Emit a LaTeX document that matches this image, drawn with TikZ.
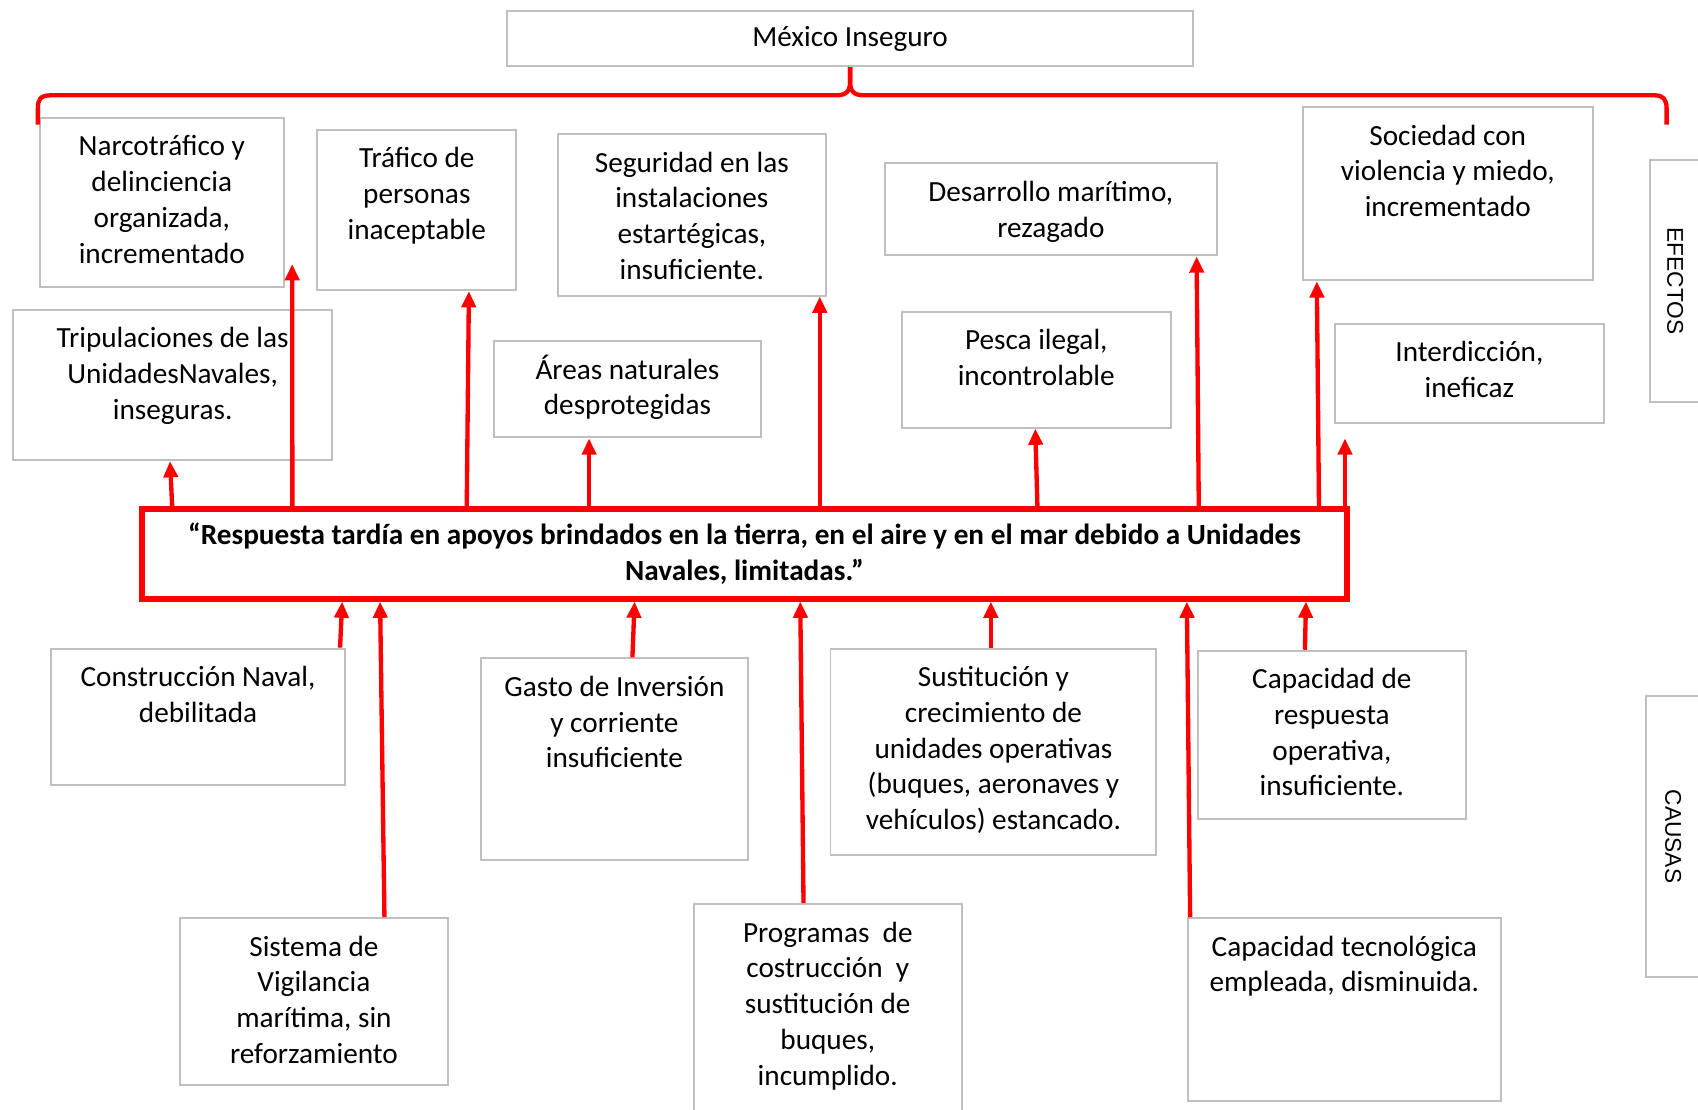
\documentclass[tikz,border=0pt]{standalone}
\usepackage{fontspec}
\setmainfont{Carlito}
\newfontfamily\sidefont{Liberation Sans}
\usetikzlibrary{arrows.meta}
\definecolor{boxgray}{RGB}{191,191,191}
\definecolor{brred}{RGB}{255,0,0}
\newdimen\upx \upx=0.5pt
\newcommand\boxfont{\fontsize{13.5}{16.5}\selectfont}
\newcommand\cbox[6]{\node[gbox] (#1) at (#2,#3) {\parbox[c][#5\upx][t]{#4\upx}{\centering\vspace*{12\upx}\strut#6}};}
\begin{document}
\begin{tikzpicture}[x=0.5pt,y=-0.5pt,
  gbox/.style={draw=boxgray,line width=0.9pt,inner sep=0pt,anchor=north west,font=\boxfont},
  titlebox/.style={draw=boxgray,line width=0.9pt,inner sep=0pt,font=\boxfont},
  corebox/.style={draw=brred,line width=2.5pt,inner sep=0pt,align=center,font=\boxfont\bfseries},
  sidebox/.style={draw=boxgray,line width=0.9pt,inner sep=0pt,rotate=-90,font=\sidefont\fontsize{10.5}{12}\selectfont},
  arr/.style={draw=brred,line width=2pt,-{Triangle[length=7.5pt,width=6.5pt]}},
  brace/.style={draw=brred,line width=2pt,line join=round}]
\useasboundingbox (0,0) rectangle (1568,1025);
\clip (0,0) rectangle (1568,1025);

% top
\node[titlebox,minimum width=317pt,minimum height=25.5pt] (mexico) at (785,35.5) {México Inseguro};

% effects
\cbox{narco}{36}{108}{225}{156}{Narcotráfico y\\delinciencia\\organizada,\\incrementado}
\cbox{trafico}{292}{119}{184}{148}{Tráfico de\\personas\\inaceptable}
\cbox{segur}{514}{123}{248}{149}{Seguridad en las\\instalaciones\\estartégicas,\\insuficiente.}
\cbox{desarr}{816}{150}{307}{85}{Desarrollo marítimo,\\rezagado}
\cbox{socied}{1202}{98}{268}{160}{Sociedad con\\violencia y miedo,\\incrementado}
\cbox{tripul}{11}{285}{295}{139}{Tripulaciones de las\\UnidadesNavales,\\inseguras.}
\cbox{areas}{455}{314}{247}{89}{Áreas naturales\\desprotegidas}
\cbox{pesca}{832}{287}{248}{107}{Pesca ilegal,\\incontrolable}
\cbox{interd}{1232}{298}{248}{92}{Interdicción,\\ineficaz}

% causes
\cbox{constr}{46}{598}{272}{126}{Construcción Naval,\\debilitada}
\cbox{gasto}{443}{607}{247}{186}{Gasto de Inversión\\y corriente\\insuficiente}
\cbox{sustit}{766}{598}{301}{191}{Sustitución y\\crecimiento de\\unidades operativas\\(buques, aeronaves y\\vehículos) estancado.}
\cbox{capresp}{1105}{600}{248}{155}{Capacidad de\\respuesta\\operativa,\\insuficiente.}
\cbox{sistema}{165}{847}{248}{154}{Sistema de\\Vigilancia\\marítima, sin\\reforzamiento}
\cbox{program}{640}{834}{247}{200}{Programas\ \ de\\costrucción\ \ y\\sustitución de\\buques,\\incumplido.}
\cbox{captec}{1096}{847}{289}{169}{Capacidad tecnológica\\empleada, disminuida.}

% central problem
\node[corebox,minimum width=556.5pt,minimum height=41.5pt] (core) at (687.5,511.5)
  {“Respuesta tardía en apoyos brindados en la tierra, en el aire y en el mar debido a Unidades\\Navales, limitadas.”};

% side labels
\node[sidebox,minimum width=111.5pt,minimum height=23pt] (efectos) at (1547,259.5) {EFECTOS};
\node[sidebox,minimum width=129.5pt,minimum height=25pt] (causas) at (1545,772.5) {CAUSAS};

% brace
\coordinate (bl) at (35,115);
\coordinate (br) at (1539,115);
\draw[brace] (bl) -- (35,100) .. controls (35,92) and (37,88) .. (47,88) -- (772,88)
  .. controls (782,88) and (785,84) .. (785,75) -- (mexico.south);
\draw[brace] (mexico.south) -- (785,75) .. controls (785,84) and (788,88) .. (798,88) -- (1528,88)
  .. controls (1536,88) and (1539,92) .. (1539,100) -- (br);

% effect arrows
\draw[arr] (core.north -| 159,0) -- (tripul.south -| 157,0);
\draw[arr] (core.north -| 270,0) -- ([shift={(7,-22)}]narco.south east);
\draw[arr] (core.north -| 431,0) -- (trafico.south -| 433,0);
\draw[arr] (core.north -| 544,0) -- (areas.south -| 544,0);
\draw[arr] (core.north -| 757,0) -- (segur.south -| 757,0);
\draw[arr] (core.north -| 958,0) -- (pesca.south -| 956,0);
\draw[arr] (core.north -| 1107,0) -- (desarr.south -| 1105,0);
\draw[arr] (core.north -| 1218,0) -- (socied.south -| 1216,0);
\draw[arr] (core.north -| 1242,0) -- ([shift={(10,13)}]interd.south west);

% cause arrows
\draw[arr] (constr.north -| 314,0) -- (core.south -| 316,0);
\draw[arr] (sistema.north -| 355,0) -- (core.south -| 351,0);
\draw[arr] (gasto.north -| 584,0) -- (core.south -| 586,0);
\draw[arr] (program.north -| 742,0) -- (core.south -| 739,0);
\draw[arr] (sustit.north -| 915,0) -- (core.south -| 915,0);
\draw[arr] (captec.north -| 1099,0) -- (core.south -| 1096,0);
\draw[arr] (capresp.north -| 1205,0) -- (core.south -| 1206,0);
\end{tikzpicture}
\end{document}
